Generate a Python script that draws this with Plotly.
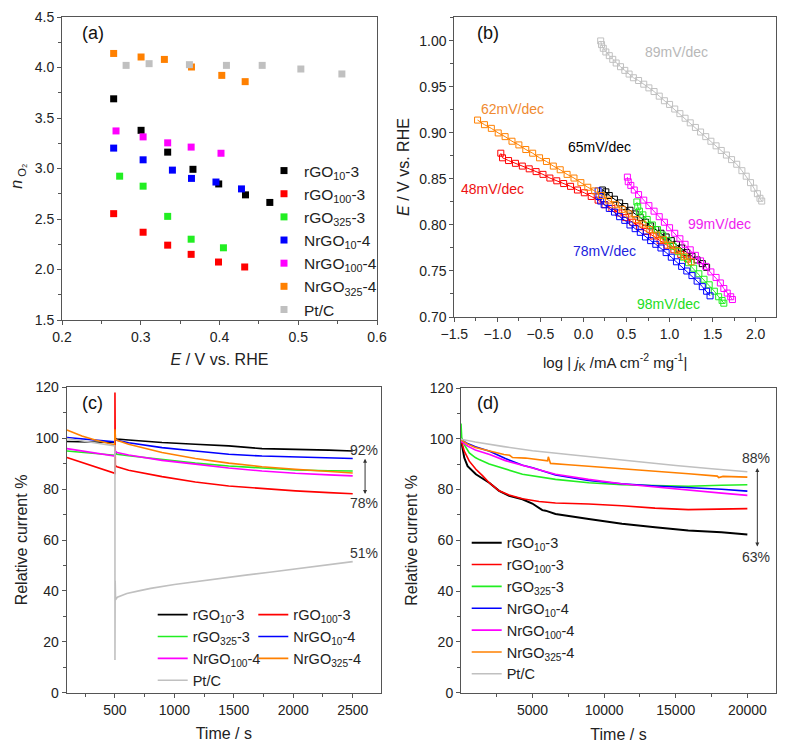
import plotly.graph_objects as go

# ---------------- common ----------------
names = ["rGO<sub>10</sub>-3", "rGO<sub>100</sub>-3", "rGO<sub>325</sub>-3",
         "NrGO<sub>10</sub>-4", "NrGO<sub>100</sub>-4", "NrGO<sub>325</sub>-4", "Pt/C"]
colors = ["#000000", "#ff0000", "#22ee22", "#0000ff", "#ff00ff", "#ff8000", "#c0c0c0"]

# ---------------- (a) n_O2 vs E ----------------
a_rgo10_x = [0.2656, 0.3004, 0.3342, 0.3663, 0.3990, 0.4330, 0.4639]
a_rgo10_y = [3.690, 3.378, 3.162, 2.992, 2.847, 2.739, 2.664]
a_rgo100_x = [0.2656, 0.3030, 0.3342, 0.3640, 0.3987, 0.4320]
a_rgo100_y = [2.553, 2.369, 2.241, 2.150, 2.074, 2.025]
a_rgo325_x = [0.2732, 0.3030, 0.3342, 0.3640, 0.4050]
a_rgo325_y = [2.924, 2.825, 2.526, 2.300, 2.215]
a_nrgo10_x = [0.2656, 0.3030, 0.3402, 0.3644, 0.3955, 0.4279]
a_nrgo10_y = [3.202, 3.086, 2.984, 2.902, 2.866, 2.798]
a_nrgo100_x = [0.2686, 0.3030, 0.3342, 0.3640, 0.4019]
a_nrgo100_y = [3.372, 3.313, 3.254, 3.212, 3.151]
a_nrgo325_x = [0.2656, 0.3004, 0.3300, 0.3644, 0.4029, 0.4326]
a_nrgo325_y = [4.139, 4.104, 4.080, 4.005, 3.922, 3.860]
a_ptc_x = [0.2814, 0.3106, 0.3618, 0.4088, 0.4542, 0.5033, 0.5554]
a_ptc_y = [4.021, 4.038, 4.028, 4.021, 4.021, 3.985, 3.936]

# ---------------- (b) Tafel plots ----------------
b_rgo10_x = [0.22, 0.26, 0.30, 0.36, 0.42, 0.48, 0.54, 0.60, 0.66, 0.72, 0.78, 0.84,
             0.90, 0.96, 1.02, 1.08, 1.14, 1.20, 1.26, 1.32, 1.38, 1.43]
b_rgo10_y = [0.838, 0.836, 0.832, 0.828, 0.824, 0.820, 0.816, 0.812, 0.808, 0.803, 0.799, 0.795,
             0.791, 0.787, 0.783, 0.779, 0.775, 0.770, 0.766, 0.762, 0.758, 0.754]
b_rgo100_x = [-0.96, -0.94, -0.87, -0.79, -0.71, -0.63, -0.55, -0.47, -0.39, -0.31, -0.23, -0.15,
              -0.07, 0.01, 0.09, 0.17, 0.25, 0.33, 0.41, 0.49, 0.57, 0.65, 0.73, 0.81, 0.89,
              0.97, 1.05, 1.13, 1.21]
b_rgo100_y = [0.878, 0.873, 0.870, 0.867, 0.864, 0.861, 0.858, 0.855, 0.851, 0.848, 0.845, 0.842,
              0.838, 0.835, 0.831, 0.827, 0.822, 0.818, 0.813, 0.808, 0.803, 0.798, 0.793, 0.788,
              0.783, 0.778, 0.773, 0.768, 0.763]
b_rgo325_x = [0.62, 0.63, 0.65, 0.69, 0.74, 0.80, 0.86, 0.92, 0.98, 1.04, 1.10, 1.16, 1.22,
              1.28, 1.34, 1.40, 1.46, 1.52, 1.57, 1.61, 1.63]
b_rgo325_y = [0.825, 0.820, 0.815, 0.811, 0.806, 0.800, 0.795, 0.789, 0.783, 0.777, 0.771, 0.765,
              0.759, 0.753, 0.747, 0.741, 0.735, 0.728, 0.722, 0.718, 0.715]
b_nrgo10_x = [0.17, 0.18, 0.20, 0.24, 0.30, 0.36, 0.42, 0.48, 0.54, 0.60, 0.66, 0.72, 0.78,
              0.84, 0.90, 0.96, 1.02, 1.08, 1.14, 1.20, 1.26, 1.32, 1.38, 1.43, 1.47]
b_nrgo10_y = [0.837, 0.831, 0.826, 0.822, 0.818, 0.814, 0.809, 0.805, 0.800, 0.796, 0.792, 0.787,
              0.783, 0.779, 0.775, 0.770, 0.765, 0.760, 0.755, 0.750, 0.745, 0.739, 0.733, 0.728,
              0.723]
b_nrgo100_x = [0.51, 0.52, 0.55, 0.59, 0.64, 0.70, 0.76, 0.82, 0.88, 0.94, 1.00, 1.06, 1.12,
               1.18, 1.24, 1.30, 1.36, 1.42, 1.48, 1.54, 1.59, 1.63, 1.67, 1.71, 1.73]
b_nrgo100_y = [0.852, 0.847, 0.843, 0.838, 0.833, 0.827, 0.821, 0.815, 0.809, 0.803, 0.797, 0.791,
               0.785, 0.779, 0.773, 0.767, 0.761, 0.755, 0.749, 0.743, 0.737, 0.731, 0.726, 0.722,
               0.719]
b_nrgo325_x = [-1.23, -1.15, -1.07, -0.99, -0.91, -0.83, -0.75, -0.67, -0.59, -0.51, -0.43, -0.35,
               -0.27, -0.19, -0.11, -0.03, 0.05, 0.13, 0.21, 0.29, 0.37, 0.45, 0.53, 0.61, 0.69,
               0.77, 0.85, 0.93, 1.01, 1.09, 1.17, 1.25]
b_nrgo325_y = [0.914, 0.909, 0.905, 0.900, 0.896, 0.891, 0.887, 0.882, 0.878, 0.873, 0.869, 0.864,
               0.860, 0.855, 0.851, 0.846, 0.841, 0.837, 0.832, 0.827, 0.822, 0.817, 0.812, 0.806,
               0.801, 0.795, 0.789, 0.784, 0.778, 0.772, 0.766, 0.760]
b_ptc_x = [0.20, 0.21, 0.23, 0.26, 0.30, 0.34, 0.38, 0.43, 0.48, 0.53, 0.58, 0.64, 0.70, 0.76,
           0.82, 0.88, 0.94, 1.00, 1.06, 1.12, 1.18, 1.24, 1.30, 1.36, 1.42, 1.48, 1.54, 1.60,
           1.66, 1.72, 1.78, 1.84, 1.89, 1.94, 1.98, 2.02, 2.05, 2.07]
b_ptc_y = [1.000, 0.996, 0.992, 0.988, 0.984, 0.980, 0.976, 0.972, 0.968, 0.964, 0.960, 0.957,
           0.953, 0.949, 0.945, 0.940, 0.935, 0.931, 0.926, 0.921, 0.916, 0.911, 0.906, 0.901,
           0.896, 0.891, 0.886, 0.881, 0.876, 0.871, 0.866, 0.859, 0.853, 0.846, 0.840, 0.834,
           0.829, 0.826]
b_slope_labels = ["65mV/dec", "48mV/dec", "98mV/dec", "78mV/dec", "99mV/dec", "62mV/dec", "89mV/dec"]
b_label_x = [0.181, -1.059, 0.985, 0.239, 1.578, -0.822, 1.083]
b_label_y = [0.8848, 0.8396, 0.7146, 0.7717, 0.8015, 0.9265, 0.988]

# ---------------- (c) chronoamperometry, short ----------------
c_rgo10_x = [96, 222, 334, 498, 500, 517, 615, 896, 1176, 1457, 1737, 2018, 2298, 2500]
c_rgo10_y = [98.7, 98.6, 98.5, 98.3, 99.9, 99.7, 99.3, 98.3, 97.6, 97.0, 95.9, 95.7, 95.3, 95.0]
c_rgo100_x = [96, 222, 334, 498, 500, 500, 503, 517, 615, 896, 1176, 1457, 1737, 2018, 2298, 2500]
c_rgo100_y = [92.4, 90.4, 88.8, 86.2, 86.2, 118.0, 89.2, 88.8, 87.4, 84.9, 82.8, 81.2, 80.2,
              79.3, 78.6, 78.2]
c_rgo325_x = [96, 222, 334, 498, 500, 517, 615, 896, 1176, 1457, 1737, 2018, 2298, 2500]
c_rgo325_y = [95.0, 94.5, 94.0, 93.3, 94.2, 93.7, 93.1, 91.5, 90.2, 89.1, 88.3, 87.5, 87.2, 87.1]
c_nrgo10_x = [96, 222, 334, 498, 500, 517, 615, 896, 1176, 1457, 1737, 2018, 2298, 2500]
c_nrgo10_y = [100.3, 99.8, 99.3, 98.6, 99.8, 99.2, 98.2, 96.3, 95.0, 93.7, 93.0, 92.6, 92.3, 92.0]
c_nrgo100_x = [96, 222, 334, 498, 500, 517, 615, 896, 1176, 1457, 1737, 2018, 2298, 2500]
c_nrgo100_y = [95.9, 95.0, 94.2, 93.0, 95.0, 94.4, 93.4, 91.3, 89.8, 88.3, 87.1, 86.2, 85.6, 85.2]
c_nrgo325_x = [96, 222, 334, 498, 500, 505, 517, 615, 896, 1176, 1457, 1737, 2018, 2298, 2500]
c_nrgo325_y = [103.2, 100.9, 99.3, 97.3, 103.5, 99.8, 99.2, 97.6, 94.4, 92.0, 90.2, 88.8, 87.8,
               86.9, 86.3]
c_ptc_x = [96, 222, 334, 498, 500, 500, 502, 505, 520, 600, 700, 800, 1000, 1200, 1400, 1600,
           1800, 2000, 2200, 2400, 2500]
c_ptc_y = [99.9, 99.0, 98.3, 97.0, 97.0, 12.8, 44.0, 36.5, 37.5, 39.0, 40.0, 41.0, 42.5, 43.8,
           45.0, 46.2, 47.3, 48.5, 49.7, 50.9, 51.5]

# ---------------- (d) chronoamperometry, long ----------------
d_rgo10_x = [0, 230, 460, 1040, 1970, 2660, 3360, 4290, 4980, 5680, 5910, 6600, 8920, 11240,
             13550, 15870, 18190, 20000]
d_rgo10_y = [99.6, 92.5, 89.2, 86.0, 82.7, 79.5, 77.5, 76.2, 74.5, 71.9, 71.7, 70.4, 68.4, 66.5,
             65.2, 63.9, 63.2, 62.3]
d_rgo100_x = [0, 230, 580, 1040, 1500, 1970, 2660, 3360, 4290, 5450, 6600, 8920, 11240, 13550,
              15870, 18190, 20000]
d_rgo100_y = [99.6, 95.1, 91.2, 88.0, 85.5, 82.7, 79.5, 77.9, 76.4, 75.3, 74.7, 74.3, 73.6, 72.7,
              72.1, 72.2, 72.5]
d_rgo325_x = [0, 50, 230, 580, 1000, 1270, 1970, 3130, 4290, 6600, 8920, 11240, 13550, 15870,
              18190, 20000]
d_rgo325_y = [106.0, 100.5, 97.7, 94.4, 92.6, 91.8, 90.1, 87.9, 86.0, 84.0, 82.7, 81.9, 81.6,
              81.3, 81.7, 81.9]
d_nrgo10_x = [0, 500, 1000, 2000, 3100, 4300, 5000, 6600, 8900, 11200, 13600, 15900, 18200, 20000]
d_nrgo10_y = [99.6, 98.0, 96.9, 95.1, 92.2, 89.6, 88.6, 85.7, 83.6, 82.3, 81.4, 80.8, 80.1, 79.4]
d_nrgo100_x = [0, 500, 1000, 2000, 3100, 4300, 5000, 6600, 8900, 11200, 13600, 15900, 18200, 20000]
d_nrgo100_y = [99.0, 97.0, 95.6, 93.8, 91.4, 89.6, 88.6, 86.0, 84.0, 82.3, 81.0, 79.7, 78.6, 77.7]
d_nrgo325_x = [0, 500, 1000, 2000, 3000, 3400, 3600, 4500, 5500, 6050, 6100, 6250, 7500, 9000,
               11200, 13500, 15900, 17900, 18000, 18300, 20000]
d_nrgo325_y = [99.6, 97.8, 96.6, 95.1, 93.8, 93.5, 92.6, 92.4, 91.6, 91.3, 92.9, 90.3, 89.8, 89.2,
               88.2, 87.3, 86.2, 85.3, 84.7, 85.2, 84.9]
d_ptc_x = [0, 1000, 3000, 5000, 7500, 10000, 12500, 15000, 17500, 20000]
d_ptc_y = [99.8, 98.7, 96.9, 95.3, 93.8, 92.3, 90.9, 89.5, 88.2, 87.0]

# tick values
a_xticks = [0.2, 0.3, 0.4, 0.5, 0.6]
a_yticks = [1.5, 2.0, 2.5, 3.0, 3.5, 4.0, 4.5]
b_xticks = [-1.5, -1.0, -0.5, 0.0, 0.5, 1.0, 1.5, 2.0]
b_yticks = [0.70, 0.75, 0.80, 0.85, 0.90, 0.95, 1.00]
c_xticks = [500, 1000, 1500, 2000, 2500]
d_xticks = [5000, 10000, 15000, 20000]
d_xminor = [2500, 7500, 12500, 17500]
cd_yticks = [0, 20, 40, 60, 80, 100, 120]

FONT = "Arial, 'Liberation Sans', sans-serif"
OFF = 8                      # page body margin in the browser
W, H = 785 - OFF, 745 - OFF  # figure size so it fits in the window


def px2x(px):
    return (px - OFF) / W


def py2y(py):
    return 1 - (py - OFF) / H


fig = go.Figure()

a_data = [(a_rgo10_x, a_rgo10_y), (a_rgo100_x, a_rgo100_y), (a_rgo325_x, a_rgo325_y),
          (a_nrgo10_x, a_nrgo10_y), (a_nrgo100_x, a_nrgo100_y), (a_nrgo325_x, a_nrgo325_y),
          (a_ptc_x, a_ptc_y)]
for (xs, ys), n, c in zip(a_data, names, colors):
    fig.add_trace(go.Scatter(x=xs, y=ys, mode="markers", name=n, legend="legend",
                             marker=dict(symbol="square", size=7, color=c),
                             xaxis="x", yaxis="y"))

b_data = [(b_rgo10_x, b_rgo10_y), (b_rgo100_x, b_rgo100_y), (b_rgo325_x, b_rgo325_y),
          (b_nrgo10_x, b_nrgo10_y), (b_nrgo100_x, b_nrgo100_y), (b_nrgo325_x, b_nrgo325_y),
          (b_ptc_x, b_ptc_y)]
for (xs, ys), n, c in zip(b_data, names, colors):
    fig.add_trace(go.Scatter(x=xs, y=ys, mode="lines+markers", name=n, showlegend=False,
                             line=dict(color=c, width=1),
                             marker=dict(symbol="square-open", size=6, color=c, line=dict(width=1)),
                             xaxis="x2", yaxis="y2"))

c_data = [(c_rgo10_x, c_rgo10_y), (c_rgo100_x, c_rgo100_y), (c_rgo325_x, c_rgo325_y),
          (c_nrgo10_x, c_nrgo10_y), (c_nrgo100_x, c_nrgo100_y), (c_nrgo325_x, c_nrgo325_y),
          (c_ptc_x, c_ptc_y)]
c_leg = ["legend2", "legend3", "legend2", "legend3", "legend2", "legend3", "legend2"]
for (xs, ys), n, c, lg in zip(c_data, names, colors, c_leg):
    fig.add_trace(go.Scatter(x=xs, y=ys, mode="lines", name=n, legend=lg,
                             line=dict(color=c, width=1.6),
                             xaxis="x3", yaxis="y3"))

d_data = [(d_rgo10_x, d_rgo10_y), (d_rgo100_x, d_rgo100_y), (d_rgo325_x, d_rgo325_y),
          (d_nrgo10_x, d_nrgo10_y), (d_nrgo100_x, d_nrgo100_y), (d_nrgo325_x, d_nrgo325_y),
          (d_ptc_x, d_ptc_y)]
for (xs, ys), n, c in zip(d_data, names, colors):
    fig.add_trace(go.Scatter(x=xs, y=ys, mode="lines", name=n, legend="legend4",
                             line=dict(color=c, width=1.6 if c != "#000000" else 2),
                             xaxis="x4", yaxis="y4"))

AX = dict(showline=True, mirror=True, linecolor="#555", linewidth=1, ticks="outside",
          ticklen=4, tickcolor="#555", showgrid=False, zeroline=False, automargin=False,
          ticklabeloverflow="allow",
          tickfont=dict(size=14, color="#222", family=FONT),
          title_font=dict(size=16, color="#222", family=FONT))


def ax(**kw):
    d = dict(AX)
    d.update(kw)
    return d


MIN = dict(ticks="outside", ticklen=3, tickcolor="#555", showgrid=False)

fig.update_layout(
    width=W, height=H, margin=dict(l=0, r=0, t=0, b=0, autoexpand=False),
    paper_bgcolor="white", plot_bgcolor="white",
    font=dict(family=FONT, color="#222"),
    xaxis=ax(domain=[px2x(62), px2x(377)], range=[0.2, 0.6], tickvals=a_xticks,
             tickformat=".1f", minor=dict(MIN, dtick=0.05, tick0=0.2), anchor="y",
             title=dict(text="<i>E</i> / V vs. RHE", standoff=10)),
    yaxis=ax(domain=[py2y(320), py2y(17)], range=[1.5, 4.5], tickvals=a_yticks,
             tickformat=".1f", minor=dict(MIN, dtick=0.25, tick0=1.5), anchor="x"),
    xaxis2=ax(domain=[px2x(454.3), px2x(776)], range=[-1.5, 2.236], tickvals=b_xticks,
              tickformat=".1f", minor=dict(MIN, dtick=0.25, tick0=-1.5), anchor="y2",
              title=dict(text="log | <i>j</i><sub>K</sub> /mA cm<sup>-2</sup> mg<sup>-1</sup>|",
                         standoff=16, font=dict(size=15))),
    yaxis2=ax(domain=[py2y(317), py2y(17)], range=[0.70, 1.026], tickvals=b_yticks,
              tickformat=".2f", minor=dict(MIN, dtick=0.025, tick0=0.7), anchor="x2",
              title=dict(text="<i>E</i> / V vs. RHE", standoff=5)),
    xaxis3=ax(domain=[px2x(66.7), px2x(381)], range=[94, 2738], tickvals=c_xticks,
              tickformat="d", minor=dict(MIN, dtick=250, tick0=0), anchor="y3",
              title=dict(text="Time / s", standoff=11)),
    yaxis3=ax(domain=[py2y(692.7), py2y(387.3)], range=[0, 120], tickvals=cd_yticks,
              minor=dict(MIN, dtick=10, tick0=0), anchor="x3",
              title=dict(text="Relative current %", standoff=3)),
    xaxis4=ax(domain=[px2x(461), px2x(776)], range=[0, 22000], tickvals=d_xticks,
              tickformat="d", minor=dict(MIN, tickvals=d_xminor), anchor="y4",
              title=dict(text="Time / s", standoff=12)),
    yaxis4=ax(domain=[py2y(692.7), py2y(388)], range=[0, 120], tickvals=cd_yticks,
              minor=dict(MIN, dtick=10, tick0=0), anchor="x4",
              title=dict(text="Relative current %", standoff=8)),
    legend=dict(x=px2x(264), y=py2y(154), xanchor="left", yanchor="top",
                bgcolor="rgba(0,0,0,0)", font=dict(size=15.5, color="#222"),
                tracegroupgap=0),
    legend2=dict(x=px2x(152.7), y=py2y(598.7), xanchor="left", yanchor="top",
                 bgcolor="rgba(0,0,0,0)", font=dict(size=14.5, color="#222"),
                 tracegroupgap=0),
    legend3=dict(x=px2x(253.3), y=py2y(598.7), xanchor="left", yanchor="top",
                 bgcolor="rgba(0,0,0,0)", font=dict(size=14.5, color="#222"),
                 tracegroupgap=0),
    legend4=dict(x=px2x(466.7), y=py2y(526.8), xanchor="left", yanchor="top",
                 bgcolor="rgba(0,0,0,0)", font=dict(size=14.5, color="#222"),
                 tracegroupgap=0),
)

ann = []
# y-axis title of (a), placed close to the axis like the reference
ann.append(dict(text="<i>n</i><sub> O₂</sub>", x=px2x(18), y=py2y(176.7), xref="paper",
                yref="paper", xanchor="center", yanchor="middle", textangle=-90,
                showarrow=False, font=dict(size=16, color="#222", family=FONT)))
# panel labels
for lab, px, py in [("(a)", 92.7, 33.3), ("(b)", 488.3, 33.3), ("(c)", 92.7, 403.3), ("(d)", 488.3, 403.3)]:
    ann.append(dict(text=lab, x=px2x(px), y=py2y(py), xref="paper", yref="paper",
                    xanchor="center", yanchor="middle",
                    showarrow=False, font=dict(size=18, color="#111", family=FONT)))
# slope labels (b)
b_label_colors = ["#000000", "#ee1111", "#22dd22", "#2222dd", "#ee22ee", "#f08a30", "#b8b8b8"]
for t, x, y, c in zip(b_slope_labels, b_label_x, b_label_y, b_label_colors):
    ann.append(dict(text=t, x=x, y=y, xref="x2", yref="y2", showarrow=False,
                    xanchor="center", yanchor="middle",
                    font=dict(size=14, color=c, family=FONT)))
# percentages (c)
for t, y in [("92%", 95.4), ("78%", 74.7), ("51%", 55.0)]:
    ann.append(dict(text=t, x=2598, y=y, xref="x3", yref="y3", showarrow=False,
                    xanchor="center", yanchor="middle",
                    font=dict(size=14, color="#333", family=FONT)))
ann.append(dict(text="", x=2604, y=78.1, ax=2604, ay=92.5, xref="x3", yref="y3",
                axref="x3", ayref="y3", showarrow=True, arrowside="end+start",
                arrowhead=2, arrowsize=0.8, arrowwidth=1, arrowcolor="#333"))
# percentages (d)
for t, y in [("88%", 92.4), ("63%", 53.6)]:
    ann.append(dict(text=t, x=20600, y=y, xref="x4", yref="y4", showarrow=False,
                    xanchor="center", yanchor="middle",
                    font=dict(size=14, color="#333", family=FONT)))
ann.append(dict(text="", x=20697, y=57.6, ax=20697, ay=89.1, xref="x4", yref="y4",
                axref="x4", ayref="y4", showarrow=True, arrowside="end+start",
                arrowhead=2, arrowsize=0.8, arrowwidth=1, arrowcolor="#333"))
fig.update_layout(annotations=ann)

fig.write_html("out.html")
